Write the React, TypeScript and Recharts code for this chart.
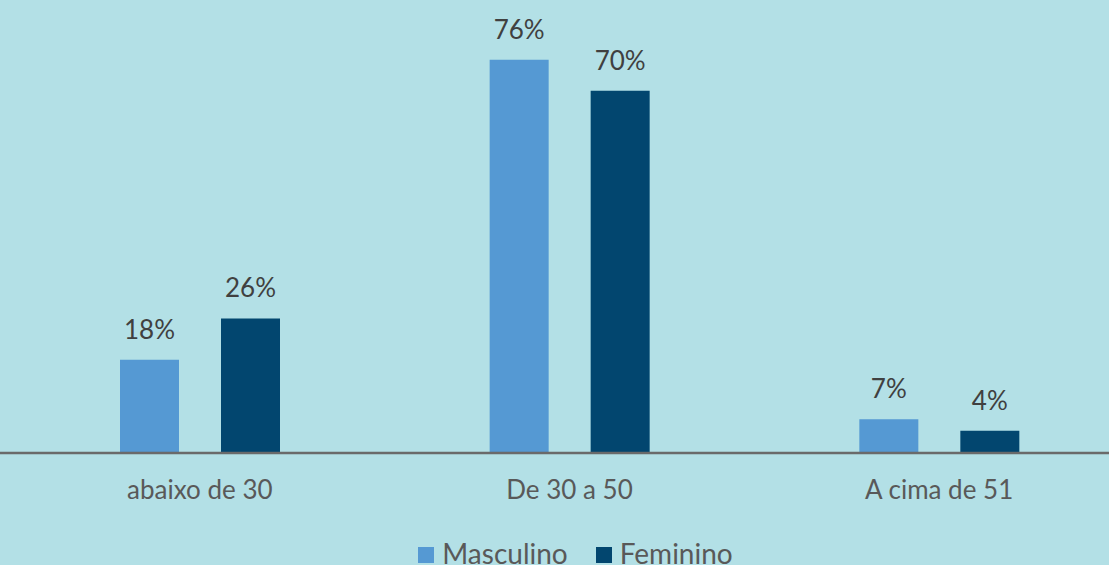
import React from 'react';
import { BarChart, Bar, XAxis, YAxis, LabelList, Legend } from 'recharts';

const categories = ['abaixo de 30', 'De 30 a 50', 'A cima de 51'];
const masculino = [18, 76, 6.5];
const feminino = [26, 70, 4.3];

const data = categories.map((name, i) => ({
  name,
  Masculino: masculino[i],
  Feminino: feminino[i],
}));

const BG = '#b3e0e6';
const LIGHT = '#5599d3';
const DARK = '#02466f';
const FONT = 'Lato, "Open Sans", sans-serif';

const pct = (v: any) => `${Math.round(Number(v))}%`;

const LegendBox = () => (
  <div style={{ display: 'flex', justifyContent: 'center', alignItems: 'center', paddingLeft: 42, fontFamily: FONT, fontSize: 28, color: '#595959', lineHeight: '32px' }}>
    {[
      ['Masculino', LIGHT],
      ['Feminino', DARK],
    ].map(([label, color], i) => (
      <div key={label} style={{ display: 'flex', alignItems: 'center', marginLeft: i ? 28 : 0 }}>
        <span style={{ width: 16, height: 16, background: color, display: 'inline-block', marginRight: 8, marginTop: 4 }} />
        <span>{label}</span>
      </div>
    ))}
  </div>
);

export default function App() {
  return (
    <div style={{ position: 'absolute', left: 0, top: 0, width: 1109, height: 565, overflow: 'hidden', background: BG }}>
      <BarChart
        width={1140}
        height={565}
        data={data}
        margin={{ top: 39, right: 16, bottom: 72, left: 0 }}
        barSize={59}
        barGap={42}
      >
        <XAxis
          dataKey="name"
          height={40}
          padding={{ left: 15, right: 0 }}
          axisLine={{ stroke: '#6a6a6a', strokeWidth: 2.5 }}
          tickLine={false}
          tickSize={0}
          tickMargin={28}
          tick={{ fontSize: 26, fill: '#595959', fontFamily: FONT }}
        />
        <YAxis hide domain={[0, 80]} />
        <Legend
          layout="horizontal"
          verticalAlign="middle"
          align="center"
          wrapperStyle={{ top: 537, left: 0, width: 1109 }}
          content={<LegendBox />}
        />
        <Bar dataKey="Masculino" fill={LIGHT} isAnimationActive={false}>
          <LabelList dataKey="Masculino" position="top" offset={21} formatter={pct} style={{ fontSize: 26, fill: '#404040', fontFamily: FONT }} />
        </Bar>
        <Bar dataKey="Feminino" fill={DARK} isAnimationActive={false}>
          <LabelList dataKey="Feminino" position="top" offset={21} formatter={pct} style={{ fontSize: 26, fill: '#404040', fontFamily: FONT }} />
        </Bar>
      </BarChart>
    </div>
  );
}
